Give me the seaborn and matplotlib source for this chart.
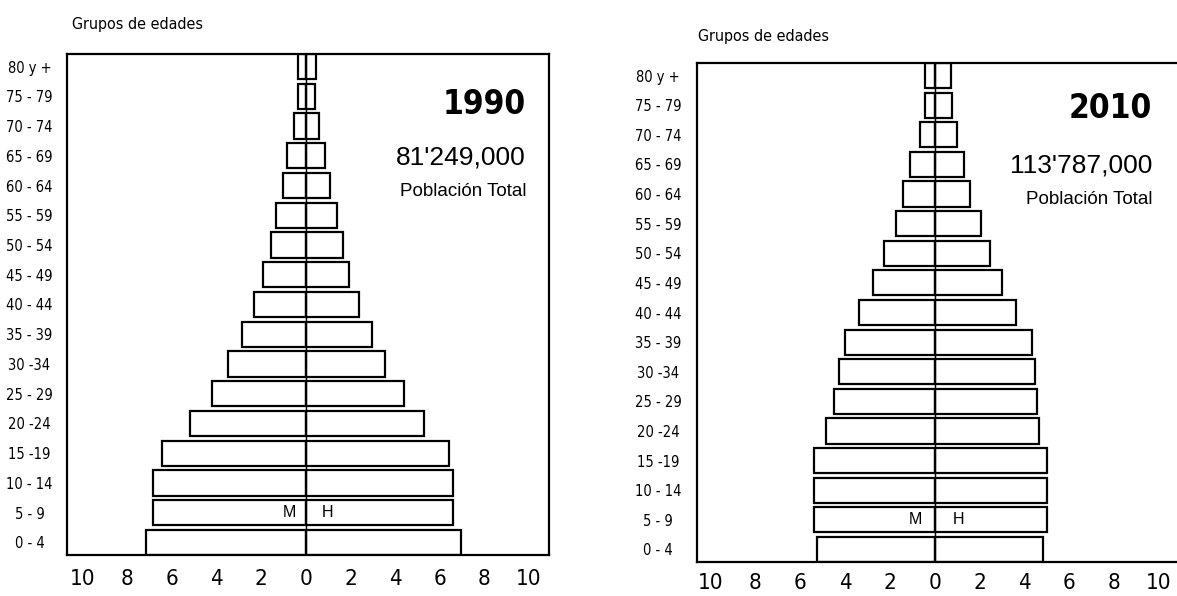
import matplotlib
matplotlib.use("Agg")
import matplotlib.pyplot as plt
import seaborn as sns
import pandas as pd

# ---------------- data ----------------
grupos = ['0 - 4', '5 - 9', '10 - 14', '15 -19', '20 -24', '25 - 29', '30 -34',
          '35 - 39', '40 - 44', '45 - 49', '50 - 54', '55 - 59', '60 - 64',
          '65 - 69', '70 - 74', '75 - 79', '80 y +']

mujeres_1990 = [7.14, 6.86, 6.83, 6.43, 5.17, 4.21, 3.47, 2.86, 2.32, 1.92,
                1.58, 1.33, 1.01, 0.83, 0.54, 0.35, 0.35]
hombres_1990 = [6.95, 6.62, 6.61, 6.40, 5.28, 4.40, 3.57, 2.98, 2.37, 1.92,
                1.65, 1.38, 1.09, 0.88, 0.59, 0.42, 0.48]

mujeres_2010 = [5.26, 5.36, 5.36, 5.36, 4.85, 4.48, 4.28, 3.98, 3.36, 2.77,
                2.28, 1.72, 1.39, 1.10, 0.67, 0.44, 0.44]
hombres_2010 = [4.84, 5.02, 5.03, 5.02, 4.66, 4.57, 4.46, 4.33, 3.61, 3.00,
                2.48, 2.05, 1.56, 1.31, 0.98, 0.79, 0.75]

anios = ['1990', '2010']
totales = ["81'249,000", "113'787,000"]
x_ticks = [-10, -8, -6, -4, -2, 0, 2, 4, 6, 8, 10]

# ---------------- style ----------------
sns.set_style("white")
NARROW = ['DejaVu Sans']
REG = ['Liberation Sans', 'Arial', 'DejaVu Sans']
plt.rcParams['font.family'] = REG
plt.rcParams['text.color'] = 'black'
plt.rcParams['xtick.color'] = 'black'
plt.rcParams['ytick.color'] = 'black'
plt.rcParams['xtick.labelcolor'] = 'black'
plt.rcParams['ytick.labelcolor'] = 'black'

W, H = 1177, 596
fig = plt.figure(figsize=(W / 100, H / 100), dpi=100)
fig.patch.set_facecolor('white')


def fx(px):
    return px / W


def fy(py):
    return 1 - py / H


order = grupos[::-1]
BAR_H = 0.85

panels = [
    dict(m=mujeres_1990, h=hombres_1990, year=anios[0], total=totales[0],
         rect=[fx(67), fy(555), fx(549 - 67), (555 - 54) / H], xlim=(-10.7, 10.9),
         ypad=27, xpad=10,
         title_xy=(72, 24), txt_x=526, year_y=104, tot_y=158, pob_y=191,
         mx=-0.45, hx=0.72),
    dict(m=mujeres_2010, h=hombres_2010, year=anios[1], total=totales[1],
         rect=[fx(697), fy(562), fx(1179 - 697), (562 - 63) / H], xlim=(-10.6, 10.9),
         ypad=28, xpad=8,
         title_xy=(698, 37), txt_x=1152, year_y=109, tot_y=165, pob_y=200,
         mx=-0.55, hx=0.8),
]

for p in panels:
    ax = fig.add_axes(p['rect'])
    df = pd.DataFrame({
        'grupo': grupos * 2,
        'valor': [-v for v in p['m']] + list(p['h']),
        'sexo': ['M'] * len(grupos) + ['H'] * len(grupos),
    })
    sns.barplot(data=df, x='valor', y='grupo', hue='sexo', order=order,
                hue_order=['M', 'H'], dodge=False, orient='h',
                palette={'M': 'white', 'H': 'white'}, saturation=1,
                edgecolor='black', linewidth=1.6, width=BAR_H,
                errorbar=None, legend=False, ax=ax)
    ax.axvline(0, color='black', lw=1.0, zorder=5)
    ax.set_xlim(*p['xlim'])
    ax.set_ylim(len(order) - 1 + BAR_H / 2, -BAR_H / 2)
    ax.set_xlabel('')
    ax.set_ylabel('')
    ax.set_xticks(x_ticks)
    ax.set_xticklabels([str(abs(t)) for t in x_ticks], fontsize=16,
                       family=NARROW, stretch='condensed', color='black')
    ax.set_yticks(range(len(order)))
    ax.set_yticklabels(order, fontsize=10.5, family=NARROW, stretch='condensed',
                       ha='center', color='black')
    ax.tick_params(axis='y', length=0, pad=p['ypad'])
    ax.tick_params(axis='x', length=0, pad=p['xpad'])
    for s in ax.spines.values():
        s.set_visible(True)
        s.set_color('black')
        s.set_linewidth(1.6)

    # M / H labels on the 5-9 row
    yi = order.index('5 - 9')
    ax.text(p['mx'], yi, 'M', ha='right', va='center', fontsize=11.5,
            family=REG, color='black')
    ax.text(p['hx'], yi, 'H', ha='left', va='center', fontsize=11.5,
            family=REG, color='black')

    # header and annotations
    tx, ty = p['title_xy']
    fig.text(fx(tx), fy(ty), 'Grupos de edades', ha='left', va='center',
             fontsize=11.5, family=NARROW, stretch='condensed', color='black')
    fig.text(fx(p['txt_x']), fy(p['year_y']), p['year'], ha='right', va='center',
             fontsize=24, fontweight='bold', family=NARROW, stretch='condensed',
             color='black')
    fig.text(fx(p['txt_x']), fy(p['tot_y']), p['total'], ha='right', va='center',
             fontsize=19, family=REG, color='black')
    fig.text(fx(p['txt_x']), fy(p['pob_y']), 'Población Total', ha='right',
             va='center', fontsize=13.5, family=REG, color='black')

fig.savefig('out.png', dpi=100, facecolor='white')
